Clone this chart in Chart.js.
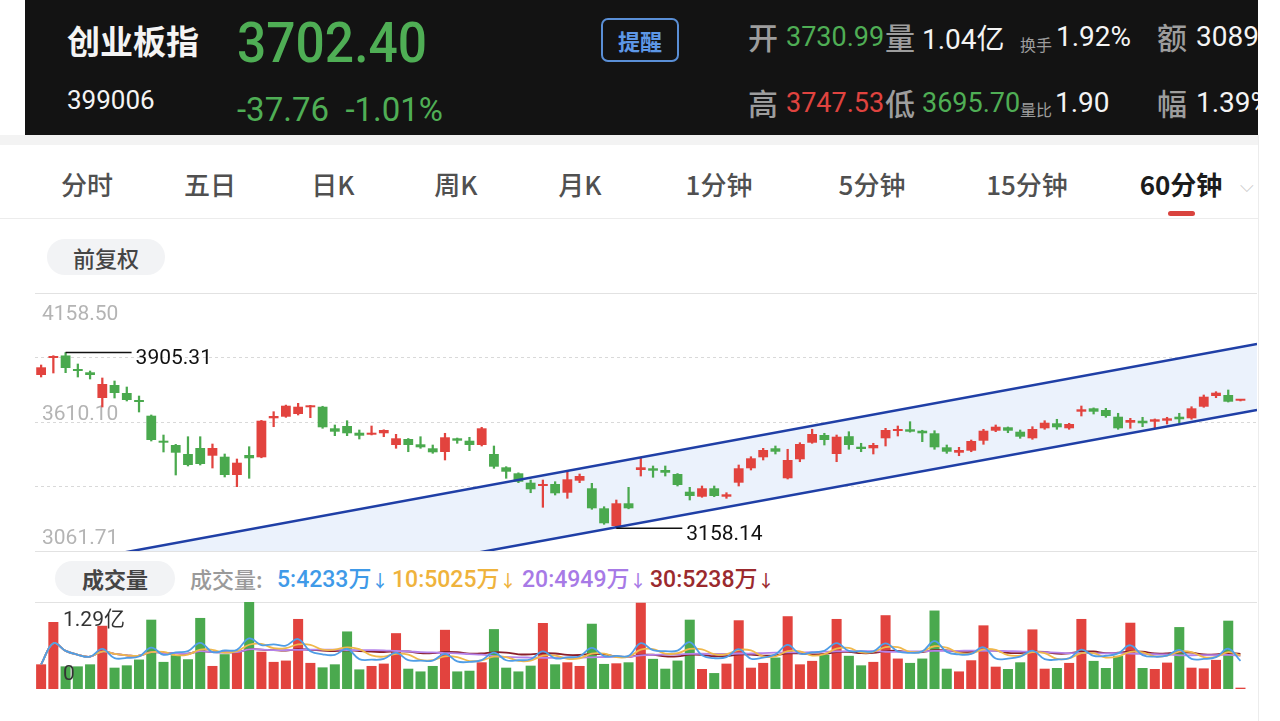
<!DOCTYPE html>
<html>
<head>
<meta charset="utf-8">
<script src="https://cdn.jsdelivr.net/npm/chart.js@4.4.0/dist/chart.umd.min.js"></script>
<style>
  html, body { margin: 0; padding: 0; width: 1280px; height: 721px; overflow: hidden; background: #fff; }
  body { position: relative; font-family: Roboto, "Noto Sans CJK SC", sans-serif; }
  .t { position: absolute; line-height: 1; white-space: nowrap; }
  .cjk { font-family: "Noto Sans CJK SC", sans-serif; }
  #hdr { position: absolute; left: 25px; top: 0; width: 1233px; height: 135px; background: #131313; overflow: hidden; }
  #hdr .t { margin-left: -25px; }
  .gray { color: #9d9d9d; }
  .green { color: #4fae55; }
  .red { color: #e0433f; }
  .white { color: #f4f4f4; }
  #strip { position: absolute; left: 0; top: 135px; width: 1258px; height: 10px; background: #f3f3f3; }
  #tabs { position: absolute; left: 0; top: 145px; width: 1258px; height: 73px; border-bottom: 1px solid #ececec; }
  .tab { position: absolute; top: 26px; transform: translateX(-50%); font-size: 26px; color: #505050; font-weight: 500; line-height: 1; white-space: nowrap; font-family: "Noto Sans CJK SC", sans-serif; }
  .pill { position: absolute; background: #f2f3f5; border-radius: 18px; text-align: center; color: #454545; font-family: "Noto Sans CJK SC", sans-serif; }
  .hline { position: absolute; left: 35px; width: 1222px; height: 1px; background: #e2e2e2; }
  .leg { position: absolute; top: 566px; font-size: 23px; font-weight: 500; line-height: 1; white-space: nowrap; }
  .leg .ar { font-size: 17px; }
  #kwrap { position: absolute; left: 0; top: 293px; width: 1280px; height: 258px; }
  #vwrap { position: absolute; left: 0; top: 602px; width: 1280px; height: 87px; }
  #edge { position: absolute; left: 1258px; top: 135px; width: 1px; height: 586px; background: #ececec; }
</style>
</head>
<body>

<div id="hdr">
  <div class="t cjk white" style="left:67px; top:24px; font-size:33px; font-weight:700;">创业板指</div>
  <div class="t green" style="left:237px; top:15px; font-size:56px; font-weight:500; transform:scaleX(.92); transform-origin:left;">3702.40</div>
  <div class="t white" style="left:67px; top:87px; font-size:26px;">399006</div>
  <div class="t green" style="left:237px; top:93px; font-size:33px;">-37.76&nbsp;&nbsp;-1.01%</div>
  <div class="t cjk" style="left:601px; top:18px; width:74px; height:40px; border:2px solid #5a8fd6; border-radius:7px; text-align:center; line-height:40px; font-size:22px; font-weight:700; color:#5d97e6;">提醒</div>

  <div class="t cjk gray" style="left:748px; top:21px; font-size:30px; font-weight:500;">开</div>
  <div class="t green" style="left:786px; top:24px; font-size:27px;">3730.99</div>
  <div class="t cjk gray" style="left:885px; top:21px; font-size:30px; font-weight:500;">量</div>
  <div class="t white" style="left:922px; top:23px; font-size:28px;">1.04<span class="cjk">亿</span></div>
  <div class="t cjk gray" style="left:1020px; top:36px; font-size:16px;">换手</div>
  <div class="t white" style="left:1056px; top:23px; font-size:28px;">1.92%</div>
  <div class="t cjk gray" style="left:1157px; top:21px; font-size:30px; font-weight:500;">额</div>
  <div class="t white" style="left:1196px; top:23px; font-size:28px;">3089亿</div>

  <div class="t cjk gray" style="left:748px; top:87px; font-size:30px; font-weight:500;">高</div>
  <div class="t red" style="left:786px; top:90px; font-size:27px;">3747.53</div>
  <div class="t cjk gray" style="left:885px; top:87px; font-size:30px; font-weight:500;">低</div>
  <div class="t green" style="left:922px; top:90px; font-size:27px;">3695.70</div>
  <div class="t cjk gray" style="left:1020px; top:101px; font-size:16px;">量比</div>
  <div class="t white" style="left:1055px; top:89px; font-size:28px;">1.90</div>
  <div class="t cjk gray" style="left:1157px; top:87px; font-size:30px; font-weight:500;">幅</div>
  <div class="t white" style="left:1196px; top:89px; font-size:28px;">1.39%</div>
</div>

<div id="strip"></div>
<div id="tabs">
  <div class="tab" style="left:87px;">分时</div>
  <div class="tab" style="left:210px;">五日</div>
  <div class="tab" style="left:333px;">日K</div>
  <div class="tab" style="left:456px;">周K</div>
  <div class="tab" style="left:580px;">月K</div>
  <div class="tab" style="left:719px;">1分钟</div>
  <div class="tab" style="left:872px;">5分钟</div>
  <div class="tab" style="left:1027px;">15分钟</div>
  <div class="tab" style="left:1181px; color:#1c1c1c; font-weight:700;">60分钟</div>
  <div class="tab" style="left:1247px; color:#c8c8c8; font-size:18px; top:30px;">⌵</div>
  <div style="position:absolute; left:1168px; top:66px; width:27px; height:5px; border-radius:3px; background:#d9433e;"></div>
</div>

<div class="pill" style="left:47px; top:239px; width:118px; height:36px; line-height:36px; font-size:22px; font-weight:500;">前复权</div>

<div class="hline" style="top:293px;"></div>
<div id="kwrap"><canvas id="kChart"></canvas></div>
<div class="hline" style="top:551px;"></div>

<div class="pill" style="left:55px; top:561px; width:120px; height:35px; line-height:35px; font-size:22px; font-weight:700;">成交量</div>
<div class="t cjk" style="left:190px; top:567px; font-size:22px; color:#9a9a9a; font-weight:500;">成交量:</div>
<div class="leg" style="left:277px; color:#3f9ae8;">5:4233<span class="cjk">万</span><span class="ar">↓</span></div>
<div class="leg" style="left:392px; color:#efb33c;">10:5025<span class="cjk">万</span><span class="ar">↓</span></div>
<div class="leg" style="left:522px; color:#a77ae6;">20:4949<span class="cjk">万</span><span class="ar">↓</span></div>
<div class="leg" style="left:650px; color:#9b2a2e;">30:5238<span class="cjk">万</span><span class="ar">↓</span></div>

<div class="hline" style="top:602px;"></div>
<div id="vwrap"><canvas id="volChart"></canvas></div>
<div id="edge"></div>

<script>
// 60-minute candles, 创业板指 399006
const opens = [
  3809.9,3882.2,3893.0,3835.4,3821.4,3712.1,3767.4,3733.4,3703.6,3636.9,
  3530.6,3512.3,3474.1,3499.6,3466.8,3462.6,3384.8,3469.8,3460.0,3625.8,
  3632.6,3644.1,3672.6,3675.1,3583.3,3593.1,3564.6,3556.1,3562.1,3512.3,
  3537.8,3515.3,3498.3,3482.6,3540.8,3530.6,3512.3,3474.1,3417.5,3392.0,
  3352.1,3338.0,3346.5,3309.5,3360.6,3328.3,3243.2,3168.0,3264.5,3406.1,
  3413.3,3406.1,3389.0,3313.8,3292.5,3328.3,3292.5,3352.1,3413.3,3460.0,
  3498.3,3370.8,3451.5,3522.1,3554.8,3474.1,3549.7,3505.1,3498.3,3540.8,
  3571.8,3579.1,3573.1,3562.1,3502.5,3479.6,3488.1,3530.6,3573.1,3587.6,
  3568.9,3540.8,3583.3,3604.6,3583.3,3653.9,3668.3,3661.1,3632.6,3607.1,
  3615.6,3611.4,3615.6,3632.6,3625.8,3675.1,3720.6,3724.9,3700.5
];
const highs = [
  3852.4,3892.0,3905.31,3856.7,3826.9,3797.2,3784.4,3758.9,3720.6,3639.9,
  3554.8,3515.0,3547.6,3547.6,3516.6,3474.1,3452.8,3505.1,3617.0,3653.9,
  3682.0,3689.6,3681.0,3677.0,3597.4,3615.6,3576.1,3593.1,3577.0,3557.8,
  3540.0,3547.6,3512.3,3562.1,3542.0,3545.1,3587.6,3508.1,3420.1,3394.0,
  3363.5,3363.5,3356.3,3403.1,3389.0,3349.5,3250.0,3278.5,3332.5,3455.8,
  3423.1,3423.1,3391.0,3332.5,3338.0,3338.0,3309.5,3427.3,3462.6,3498.3,
  3508.1,3494.1,3522.1,3579.1,3562.1,3554.8,3568.9,3519.6,3519.6,3583.3,
  3593.1,3611.4,3575.0,3573.1,3512.3,3502.5,3533.6,3579.1,3597.4,3589.0,
  3576.1,3590.1,3615.6,3621.6,3604.6,3678.1,3670.0,3668.3,3647.1,3625.8,
  3630.1,3623.0,3630.1,3647.1,3675.1,3724.9,3738.9,3746.1,3703.0
];
const lows = [
  3801.4,3818.4,3819.7,3801.4,3792.9,3673.9,3712.1,3699.4,3652.6,3529.3,
  3482.6,3384.8,3423.1,3427.3,3414.5,3376.3,3335.1,3370.8,3458.0,3590.1,
  3630.0,3639.9,3628.4,3583.3,3551.9,3551.9,3537.8,3555.0,3547.6,3498.3,
  3483.8,3498.3,3477.0,3448.6,3519.6,3488.1,3508.1,3413.3,3370.8,3352.1,
  3309.5,3247.5,3299.8,3285.7,3352.1,3239.0,3175.2,3158.14,3241.0,3380.5,
  3375.0,3380.5,3338.0,3278.5,3290.0,3292.5,3285.7,3338.0,3406.1,3448.6,
  3474.1,3367.8,3441.3,3519.6,3512.3,3441.3,3494.1,3483.8,3474.1,3508.1,
  3550.6,3567.0,3526.4,3494.1,3477.0,3466.8,3483.8,3515.3,3568.9,3564.6,
  3540.8,3536.5,3579.1,3579.1,3579.1,3635.6,3644.1,3630.1,3579.1,3583.3,
  3590.1,3583.3,3601.6,3604.6,3621.6,3672.6,3713.4,3695.0,3699.5
];
const closes = [
  3842.6,3890.7,3839.7,3826.9,3809.9,3771.6,3733.4,3703.6,3695.1,3533.6,
  3522.1,3479.6,3427.3,3431.5,3499.6,3384.8,3437.1,3455.8,3615.6,3635.6,
  3679.4,3675.1,3679.4,3587.6,3568.9,3562.1,3551.9,3564.6,3576.1,3540.8,
  3512.3,3502.5,3481.3,3545.1,3530.6,3512.3,3583.3,3420.1,3398.8,3356.3,
  3324.0,3346.5,3307.0,3366.5,3380.5,3243.2,3179.5,3264.5,3243.2,3417.5,
  3403.1,3394.5,3342.3,3295.5,3328.3,3295.5,3302.7,3413.3,3455.8,3491.1,
  3483.8,3448.6,3516.6,3559.1,3533.6,3547.6,3512.3,3495.3,3512.3,3576.1,
  3580.3,3568.9,3562.1,3502.5,3483.8,3491.1,3529.3,3573.1,3590.1,3573.1,
  3547.6,3580.3,3607.1,3587.6,3601.6,3664.1,3653.9,3635.6,3583.3,3618.6,
  3604.6,3621.6,3625.8,3621.6,3668.3,3717.7,3734.7,3696.4,3702.4
];
// volume in 万
const volumes = [
  3657,9933,3356,3356,3657,9376,3161,3507,4365,10279,
  4018,5012,4410,10535,3416,5162,5523,12900,5523,4018,
  4214,10385,3868,3206,3657,8533,2905,3416,3763,8278,
  3010,2604,3416,8774,2604,2709,3958,8880,3161,2604,
  3462,9783,3657,3958,3416,9677,3717,3808,3958,12793,
  4470,3010,4214,10279,2965,2363,3763,10189,3161,3868,
  4666,10791,3657,4169,5072,10385,4921,3507,4018,10941,
  4515,3868,4515,11634,3010,2604,4259,9436,3311,2965,
  3958,8834,3010,3115,3868,10385,4169,3115,4921,9828,
  3115,2965,3913,9181,3161,3055,4319,10129,196
];

const priceMin = 3061.71, priceMax = 4158.50;
const priceGrid = [3061.71, 3335.91, 3610.10, 3884.30, 4158.50];
const priceLabels = ['4158.50', '3610.10', '3061.71'];
const xMin = -0.5, xMax = 99.35;

// trend channel drawn by hand on the app
const chanX = [-0.5, 99.35];
const chanUpper = [2985.8, 3941.7];
const chanLower = [2710.4, 3661.1];

const volMax = 12900;
const volLabels = ['1.29亿', '0'];
const maPeriods = [5, 10, 20, 30];
const maColors = ['#4f9de6', '#f0b84b', '#b583ea', '#8a1e2b'];

const RED = '#e2433e', GREEN = '#4aa94e', BLUE = '#1f3fa6';

const idx = closes.map((c, i) => i);
const candleColor = idx.map(i => closes[i] >= opens[i] ? RED : GREEN);

function movingAvg(arr, n) {
  return arr.map((v, i) => {
    let s = arr.slice(Math.max(0, i - n + 1), i + 1);
    return s.reduce((a, b) => a + b, 0) / s.length;
  });
}

const xScale = { type: 'linear', min: xMin, max: xMax, offset: false, display: false, grid: { offset: false } };

const priceText = {
  id: 'priceText',
  beforeDatasetsDraw(chart) {
    const { ctx, chartArea, scales: { y } } = chart;
    ctx.save();
    ctx.font = '21px Roboto';
    ctx.fillStyle = '#b4b4b4';
    ctx.textBaseline = 'middle';
    let lx = chartArea.left + 7;
    ctx.fillText(priceLabels[0], lx, y.getPixelForValue(priceMax) + 22);
    ctx.fillText(priceLabels[1], lx, y.getPixelForValue((priceMax + priceMin) / 2) - 7);
    ctx.fillText(priceLabels[2], lx, y.getPixelForValue(priceMin) - 12);
    ctx.restore();
  },
  afterDatasetsDraw(chart) {
    const { ctx, scales: { x, y } } = chart;
    let hi = highs.indexOf(Math.max(...highs));
    let lo = lows.indexOf(Math.min(...lows));
    ctx.save();
    ctx.strokeStyle = '#111';
    ctx.lineWidth = 1.5;
    ctx.fillStyle = '#111';
    ctx.font = '21px Roboto';
    ctx.textBaseline = 'middle';
    [[hi, highs[hi]], [lo, lows[lo]]].forEach(([i, v]) => {
      let px = x.getPixelForValue(i), py = y.getPixelForValue(v);
      ctx.beginPath();
      ctx.moveTo(px, py);
      ctx.lineTo(px + 66, py);
      ctx.stroke();
      ctx.fillText(v.toFixed(2), px + 70, py + 6);
    });
    ctx.restore();
  }
};

new Chart(document.getElementById('kChart'), {
  type: 'bar',
  data: {
    datasets: [
      {
        type: 'line',
        data: chanX.map((x, k) => ({ x: x, y: chanUpper[k] })),
        borderColor: BLUE, borderWidth: 2.5, pointRadius: 0,
        fill: '+1', backgroundColor: '#ebf2fc', order: 0
      },
      {
        type: 'line',
        data: chanX.map((x, k) => ({ x: x, y: chanLower[k] })),
        borderColor: BLUE, borderWidth: 2.5, pointRadius: 0,
        fill: false, order: 0
      },
      {
        data: idx.map(i => ({ x: i, y: [opens[i], closes[i]] })),
        backgroundColor: candleColor,
        barPercentage: 0.8, categoryPercentage: 1,
        grouped: false, minBarLength: 2, order: 1
      },
      {
        data: idx.map(i => ({ x: i, y: [lows[i], highs[i]] })),
        backgroundColor: candleColor,
        barThickness: 1.6, grouped: false, order: 2
      }
    ]
  },
  options: {
    responsive: true,
    maintainAspectRatio: false,
    animation: false,
    layout: { padding: { left: 35, right: 23, top: 0, bottom: 0 } },
    plugins: {
      legend: { display: false },
      tooltip: { enabled: false },
      filler: { drawTime: 'beforeDatasetsDraw' }
    },
    scales: {
      x: xScale,
      y: {
        min: priceMin, max: priceMax,
        afterBuildTicks: s => { s.ticks = priceGrid.map(v => ({ value: v })); },
        afterFit: s => { s.width = 0; },
        ticks: { display: false },
        border: { display: false, dash: [3, 3] },
        grid: {
          drawTicks: false,
          color: c => (c.index === 0 || c.index === priceGrid.length - 1) ? 'rgba(0,0,0,0)' : '#d9d9d9'
        }
      }
    }
  },
  plugins: [priceText]
});

const volText = {
  id: 'volText',
  afterDatasetsDraw(chart) {
    const { ctx, chartArea, scales: { y } } = chart;
    ctx.save();
    ctx.font = '21px Roboto, "Noto Sans CJK SC"';
    ctx.fillStyle = '#333';
    ctx.textBaseline = 'middle';
    ctx.fillText(volLabels[0], chartArea.left + 28, y.getPixelForValue(volMax) + 19);
    ctx.fillText(volLabels[1], chartArea.left + 28, y.getPixelForValue(0) - 14);
    ctx.restore();
  }
};

new Chart(document.getElementById('volChart'), {
  type: 'bar',
  data: {
    datasets: maPeriods.map((p, k) => ({
      type: 'line',
      data: movingAvg(volumes, p).map((v, i) => ({ x: i, y: v })),
      borderColor: maColors[k], borderWidth: 1.8, pointRadius: 0,
      tension: 0.4, fill: false, order: 0
    })).concat([{
      data: idx.map(i => ({ x: i, y: volumes[i] })),
      backgroundColor: candleColor,
      barPercentage: 0.82, categoryPercentage: 1, order: 1
    }])
  },
  options: {
    responsive: true,
    maintainAspectRatio: false,
    animation: false,
    layout: { padding: { left: 35, right: 23, top: 0, bottom: 0 } },
    plugins: { legend: { display: false }, tooltip: { enabled: false } },
    scales: {
      x: xScale,
      y: { min: 0, max: volMax, display: false }
    }
  },
  plugins: [volText]
});
</script>
</body>
</html>
